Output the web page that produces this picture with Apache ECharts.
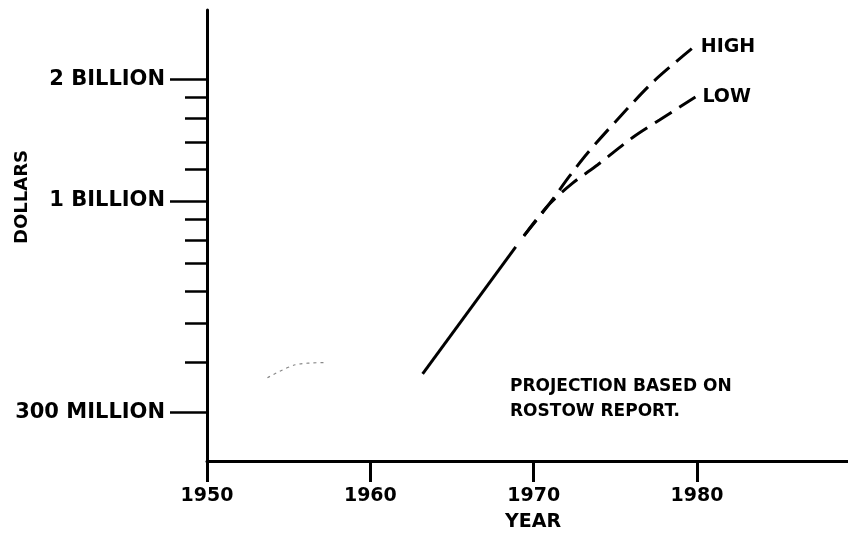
<!DOCTYPE html>
<html>
<head>
<meta charset="utf-8">
<script src="https://cdn.jsdelivr.net/npm/echarts@6/dist/echarts.min.js"></script>
<style>
html,body{margin:0;padding:0;background:#fff;}
#chart{width:848px;height:540px;}
</style>
</head>
<body>
<div id="chart"></div>
<script>
// ---- data ----
const solidActual = [[1963.2, 3.74e8], [1968.9, 7.7e8]];
const highProjection = [[1969.4, 8.2e8], [1970.9, 9.77e8], [1972.2, 1.153e9], [1973.3, 1.314e9], [1975.1, 1.585e9], [1977.3, 1.967e9], [1979.8, 2.4e9]];
const lowProjection = [[1969.4, 8.2e8], [1970.9, 9.77e8], [1972.4, 1.108e9], [1973.9, 1.227e9], [1976.1, 1.439e9], [1977.7, 1.585e9], [1979.9, 1.806e9]];
const faintTrace = [[1953.7, 3.66e8], [1955.4, 3.94e8], [1957.2, 3.99e8]];
const xTickValues = [1950, 1960, 1970, 1980];
const xTickLabels = ['1950', '1960', '1970', '1980'];
const yMajorValues = [3e8, 1e9, 2e9];
const yMajorLabels = ['300 MILLION', '1 BILLION', '2 BILLION'];
const yMinorValues = [4e8, 5e8, 6e8, 7e8, 8e8, 9e8, 1.2e9, 1.4e9, 1.6e9, 1.8e9];
const annotationLines = ['PROJECTION BASED ON', 'ROSTOW REPORT.'];

const FONT = 'DejaVu Sans';
const chart = echarts.init(document.getElementById('chart'), null, {renderer: 'canvas'});
const yMin = 2.28e8, yMax = 2.962e9;

function majorLabel(v) {
  let best = 0, bd = Infinity;
  yMajorValues.forEach((m, i) => { const d = Math.abs(Math.log(v) - Math.log(m)); if (d < bd) { bd = d; best = i; } });
  return bd < 0.01 ? yMajorLabels[best] : '';
}
function xLabel(v) {
  const i = xTickValues.findIndex(t => Math.abs(t - v) < 0.01);
  return i >= 0 ? xTickLabels[i] : '';
}

chart.setOption({
  animation: false,
  backgroundColor: '#fff',
  grid: {left: 207, right: 0, top: 10, bottom: 79, containLabel: false},
  xAxis: {
    type: 'value', min: 1950, max: 1989.24,
    name: 'YEAR', nameLocation: 'middle', nameGap: 52,
    nameTextStyle: {fontFamily: FONT, fontWeight: 'bold', fontSize: 19, color: '#000', padding: [0, 0, 0, 11]},
    axisLine: {show: true, lineStyle: {color: '#000', width: 3}},
    axisTick: {show: true, customValues: xTickValues, length: 21, lineStyle: {color: '#000', width: 3}},
    axisLabel: {show: true, customValues: xTickValues, formatter: xLabel, margin: 26, fontFamily: FONT, fontWeight: 'bold', fontSize: 19, color: '#000'},
    splitLine: {show: false}
  },
  yAxis: [
    {
      type: 'log', logBase: 10, min: yMin, max: yMax, position: 'left',
      axisLine: {show: true, lineStyle: {color: '#000', width: 3}},
      axisTick: {show: true, customValues: yMajorValues, length: 37, lineStyle: {color: '#000', width: 2.5}},
      axisLabel: {show: true, customValues: yMajorValues, margin: 42, formatter: majorLabel,
        fontFamily: FONT, fontWeight: 'bold', fontSize: 21, color: '#000'},
      splitLine: {show: false}, minorTick: {show: false}
    },
    {
      type: 'log', logBase: 10, min: yMin, max: yMax, position: 'left', offset: 0,
      axisLine: {show: false},
      axisTick: {show: true, customValues: yMinorValues, length: 22, lineStyle: {color: '#000', width: 2.5}},
      axisLabel: {show: false},
      splitLine: {show: false}
    }
  ],
  graphic: [
    {type: 'text', x: 22, y: 197, rotation: Math.PI / 2,
      style: {text: 'DOLLARS', fontFamily: FONT, fontWeight: 'bold', fontSize: 18, fill: '#000', align: 'center', verticalAlign: 'middle'}},
    {type: 'text', left: 510, top: 374,
      style: {text: annotationLines.join('\n'), fontFamily: FONT, fontWeight: 'bold', fontSize: 17, lineHeight: 25, fill: '#000'}}
  ],
  series: [
    {type: 'line', name: 'faint', data: faintTrace, yAxisIndex: 0, symbol: 'none', smooth: 0.3, silent: true,
      lineStyle: {color: '#888', width: 1.2, type: [3, 4]}},
    {type: 'line', name: 'actual', data: solidActual, yAxisIndex: 0, symbol: 'none',
      lineStyle: {color: '#000', width: 3}},
    {type: 'line', name: 'HIGH', data: highProjection, yAxisIndex: 0, symbol: 'none', smooth: 0.3,
      lineStyle: {color: '#000', width: 3, type: [20, 9]},
      endLabel: {show: true, formatter: 'HIGH', distance: 7, fontFamily: FONT, fontWeight: 'bold', fontSize: 19, color: '#000'}},
    {type: 'line', name: 'LOW', data: lowProjection, yAxisIndex: 0, symbol: 'none', smooth: 0.3,
      lineStyle: {color: '#000', width: 3, type: [20, 9]},
      endLabel: {show: true, formatter: 'LOW', distance: 7, fontFamily: FONT, fontWeight: 'bold', fontSize: 19, color: '#000'}}
  ]
});
</script>
</body>
</html>
